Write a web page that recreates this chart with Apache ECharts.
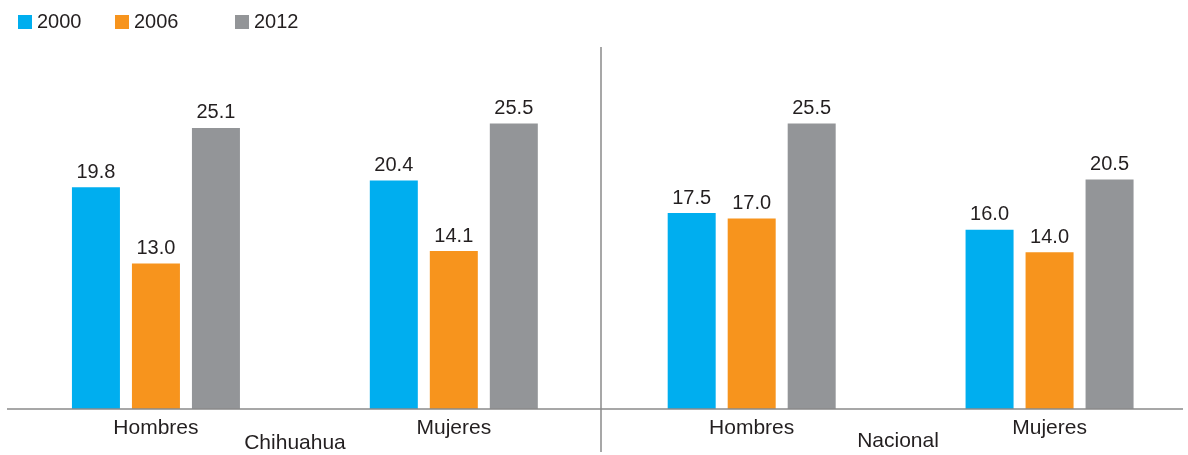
<!DOCTYPE html>
<html>
<head>
<meta charset="utf-8">
<script src="https://cdn.jsdelivr.net/npm/echarts@6/dist/echarts.min.js"></script>
<style>
html,body{margin:0;padding:0;background:#fff;}
#chart{width:1188px;height:455px;}
</style>
</head>
<body>
<div id="chart"></div>
<script>
const categories = ['Hombres', 'Mujeres', 'Hombres', 'Mujeres'];
const groups = ['Chihuahua', 'Nacional'];
const seriesNames = ['2000', '2006', '2012'];
const values2000 = [19.8, 20.4, 17.5, 16.0];
const values2006 = [13.0, 14.1, 17.0, 14.0];
const values2012 = [25.1, 25.5, 25.5, 20.5];
const colors = ['#00AEEF', '#F7941D', '#939598'];

const FONT = '"Liberation Sans", Arial, sans-serif';
const TEXT = '#231f20';
const chart = echarts.init(document.getElementById('chart'));
const allValues = [values2000, values2006, values2012];

function legendAt(i, left) {
  return {
    data: [seriesNames[i]], left: left, top: 12, padding: 0,
    itemWidth: 14, itemHeight: 14, itemGap: 0, icon: 'rect',
    textStyle: { fontFamily: FONT, fontSize: 20, color: TEXT }
  };
}

chart.setOption({
  animation: false,
  legend: [legendAt(0, 18), legendAt(1, 115), legendAt(2, 235)],
  grid: { left: 7, width: 1191.5, top: 73, height: 336, outerBoundsMode: 'none', containLabel: false },
  xAxis: {
    type: 'category', data: categories,
    axisLine: { show: false },
    axisTick: { show: false },
    axisLabel: { fontFamily: FONT, fontSize: 21, color: TEXT, margin: 9 }
  },
  yAxis: {
    type: 'value', min: 0, max: 30, show: false,
    splitLine: { show: false }
  },
  series: allValues.map((vals, i) => ({
    name: seriesNames[i], type: 'bar', data: vals,
    barWidth: 48, barGap: '25%',
    itemStyle: { color: colors[i] },
    label: {
      show: true, position: 'top', distance: 5,
      formatter: p => p.value.toFixed(1),
      fontFamily: FONT, fontSize: 20, color: TEXT
    }
  })),
  graphic: [
    { type: 'line', shape: { x1: 7, y1: 409, x2: 1183, y2: 409 }, style: { stroke: '#8a8a8a', lineWidth: 1.5 }, z: 10 },
    { type: 'line', shape: { x1: 601, y1: 47, x2: 601, y2: 452 }, style: { stroke: '#8a8a8a', lineWidth: 1.5 } },
    { type: 'text', x: 295, y: 443, style: { text: groups[0], font: '21px ' + FONT, fill: TEXT, textAlign: 'center', textVerticalAlign: 'middle' } },
    { type: 'text', x: 898, y: 441, style: { text: groups[1], font: '21px ' + FONT, fill: TEXT, textAlign: 'center', textVerticalAlign: 'middle' } }
  ]
});
</script>
</body>
</html>
